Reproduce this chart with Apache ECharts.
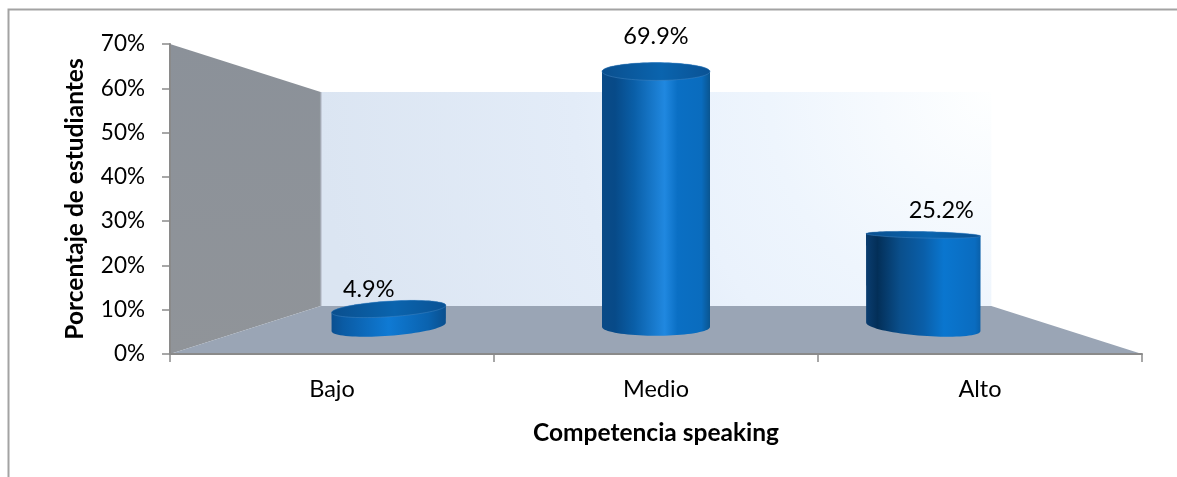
<!DOCTYPE html>
<html><head><meta charset="utf-8">
<style>html,body{margin:0;padding:0;background:#fff}#c{width:1177px;height:477px}</style>
<script src="https://cdn.jsdelivr.net/npm/echarts@6/dist/echarts.min.js"></script>
</head><body><div id="c"></div>
<script>
const categories = ['Bajo', 'Medio', 'Alto'];
const percentages = [4.9, 69.9, 25.2];
const yTicks = {min: 0, max: 70, interval: 10};
const xTitle = 'Competencia speaking';
const yTitle = 'Porcentaje de estudiantes';

// perspective of the 3D scene
const VY = 199, BACK = 0.31, BAR_DEPTH = 0.175;
const FONT = 'Lato, "Open Sans", sans-serif';
const BODY_STOPS = [
  [[0,'#0a4f90'],[.1,'#0a5ba4'],[.5,'#0f7ad4'],[.85,'#0a62ae'],[1,'#0a4f8e']],
  [[0,'#0a4a86'],[.12,'#074a88'],[.3,'#0a5fa8'],[.58,'#2088e0'],[.7,'#0a6fc4'],[.92,'#0a6cbe'],[1,'#0a5590']],
  [[0,'#0a3d70'],[.1,'#032f58'],[.3,'#0a4f8c'],[.5,'#0a5ea8'],[.68,'#0a76cf'],[.95,'#0a6cc0'],[1,'#0a60aa']]
];
const LABEL_SHIFT = [[-20,-12],[0,-26],[18,-21]];

const proj = (p, vx, d) => [p[0] + (vx - p[0]) * d, p[1] + (VY - p[1]) * d];

function ellipse(cx, cy, rx, ry, deg, from, to, n) {
  const a = deg * Math.PI / 180, out = [];
  for (let i = 0; i <= n; i++) {
    const t = from + (to - from) * i / n;
    const ex = rx * Math.cos(t), ey = ry * Math.sin(t);
    out.push([cx + ex * Math.cos(a) - ey * Math.sin(a), cy + ex * Math.sin(a) + ey * Math.cos(a)]);
  }
  return out;
}
function renderWalls(params, api) {
  const g = params.coordSys, vx = g.x + g.width / 2;
  const fl = [g.x, g.y + g.height], fr = [g.x + g.width, g.y + g.height], tl = [g.x, g.y], tr = [g.x + g.width, g.y];
  const bfl = proj(fl, vx, BACK), bfr = proj(fr, vx, BACK), btl = proj(tl, vx, BACK), btr = proj(tr, vx, BACK);
  return {type: 'group', silent: true, children: [
    {type: 'polygon', shape: {points: [btl, btr, bfr, bfl]}, style: {
      fill: {type: 'radial', x: 1, y: 0, r: 3.15, colorStops: [
        {offset: 0, color: '#feffff'}, {offset: .33, color: '#eef5fd'}, {offset: .47, color: '#eaf2fc'},
        {offset: .62, color: '#e3ecf8'}, {offset: 1, color: '#dbe5f2'}]}}},
    {type: 'polygon', shape: {points: [tl, btl, bfl, fl]}, style: {
      fill: {type: 'linear', x: 0, y: 0, x2: 0, y2: 1, colorStops: [
        {offset: 0, color: '#8b9199'}, {offset: 1, color: '#909499'}]}}},
    {type: 'polygon', shape: {points: [bfl, bfr, fr, fl]}, style: {fill: '#9aa5b5'}},
    {type: 'line', shape: {x1: btl[0], y1: btl[1], x2: bfl[0], y2: bfl[1]}, style: {stroke: '#a2a8b2', lineWidth: 1.5}}
  ]};
}
function renderCylinder(params, api) {
  const i = api.value(0), v = api.value(1);
  const g = params.coordSys, vx = g.x + g.width / 2;
  const band = api.size([1, 0])[0];
  const base = proj(api.coord([i, 0]), vx, BAR_DEPTH);
  const top = proj(api.coord([i, v]), vx, BAR_DEPTH);
  const rx = band / 6 + 3.3 * Math.abs(i - 1);
  const ryAt = y => 0.062 * Math.abs(y - VY) + 1;
  const tilt = y => 1.26e-4 * (base[0] - vx) * (y - VY);
  const upper = ellipse(top[0], top[1], rx, ryAt(top[1]), tilt(top[1]), Math.PI, 2 * Math.PI, 40);
  const lower = ellipse(base[0], base[1], rx, ryAt(base[1]), tilt(base[1]), 0, Math.PI, 40);
  const cap = ellipse(top[0], top[1], rx, ryAt(top[1]), tilt(top[1]), 0, 2 * Math.PI, 80);
  const fill = {type: 'linear', x: 0, y: 0, x2: 1, y2: 0,
    colorStops: BODY_STOPS[i].map(s => ({offset: s[0], color: s[1]}))};
  const capFill = {type: 'linear', x: 0, y: 0, x2: 1, y2: 0, colorStops: [
    {offset: 0, color: '#0a4f8e'}, {offset: .55, color: '#0a64ae'}, {offset: 1, color: '#0a5294'}]};
  return {type: 'group', children: [
    {type: 'polygon', shape: {points: upper.concat(lower)}, style: {fill}},
    {type: 'polygon', shape: {points: cap}, style: {fill: capFill, stroke: 'rgba(70,135,195,.45)', lineWidth: 1}},
    {type: 'text', x: top[0] + LABEL_SHIFT[i][0],
      y: top[1] - ryAt(top[1]) + LABEL_SHIFT[i][1],
      style: {text: v.toFixed(1) + '%', fill: '#000', font: '23.5px ' + FONT, align: 'center', verticalAlign: 'middle'}}
  ]};
}
const chart = echarts.init(document.getElementById('c'), null, {renderer: 'canvas'});
chart.setOption({
  animation: false,
  backgroundColor: '#fff',
  graphic: [{type: 'polyline', silent: true, z: 0,
    shape: {points: [[8.5, 477], [8.5, 9.5], [1177, 9.5]]},
    style: {stroke: '#a3a3a3', lineWidth: 2, fill: null}}],
  grid: {left: 170, right: 35, top: 44, bottom: 123},
  xAxis: {
    type: 'category', data: categories,
    name: xTitle, nameLocation: 'middle', nameGap: 67,
    nameTextStyle: {fontFamily: FONT, fontWeight: 'bold', fontSize: 24.5, color: '#000'},
    axisLine: {lineStyle: {color: '#8a8a8a', width: 2}},
    axisTick: {show: true, length: 8, lineStyle: {color: '#8a8a8a', width: 1.5}},
    axisLabel: {fontFamily: FONT, fontSize: 23.5, color: '#000', margin: 23},
    z: 5
  },
  yAxis: {
    type: 'value', min: yTicks.min, max: yTicks.max, interval: yTicks.interval,
    name: yTitle, nameLocation: 'middle', nameGap: 82,
    nameTextStyle: {fontFamily: FONT, fontWeight: 'bold', fontSize: 24.5, color: '#000'},
    axisLine: {show: true, lineStyle: {color: '#8a8a8a', width: 2}},
    axisTick: {show: true, length: 8, lineStyle: {color: '#8a8a8a', width: 1.5}},
    axisLabel: {fontFamily: FONT, fontSize: 22.5, color: '#000', margin: 25, formatter: '{value}%'},
    splitLine: {show: false},
    z: 5
  },
  series: [
    {type: 'custom', coordinateSystem: 'cartesian2d', renderItem: renderWalls, data: [[0, 0]], z: 1, silent: true, clip: false},
    {type: 'custom', coordinateSystem: 'cartesian2d', renderItem: renderCylinder,
      encode: {x: 0, y: 1}, data: percentages.map((p, i) => [i, p]), z: 6, clip: false}
  ]
});
</script></body></html>
